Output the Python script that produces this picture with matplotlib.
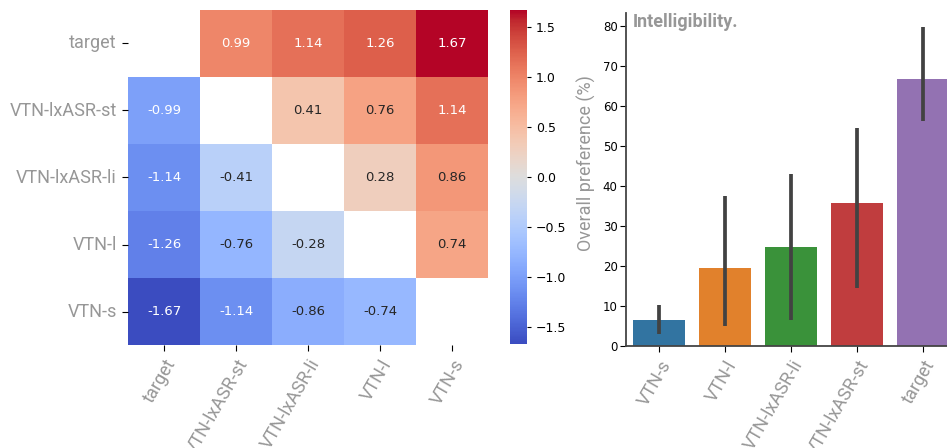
import numpy as np
import matplotlib
matplotlib.use("Agg")
import matplotlib.pyplot as plt
import seaborn as sns

# ---- data ----
heat_labels = ["target", "VTN-lxASR-st", "VTN-lxASR-li", "VTN-l", "VTN-s"]
row_target = [np.nan, 0.99, 1.14, 1.26, 1.67]
row_st = [-0.99, np.nan, 0.41, 0.76, 1.14]
row_li = [-1.14, -0.41, np.nan, 0.28, 0.86]
row_l = [-1.26, -0.76, -0.28, np.nan, 0.74]
row_s = [-1.67, -1.14, -0.86, -0.74, np.nan]

bar_labels = ["VTN-s", "VTN-l", "VTN-lxASR-li", "VTN-lxASR-st", "target"]
bar_values = [6.5, 19.4, 24.8, 35.7, 66.8]
err_low = [3.0, 4.9, 6.6, 14.5, 56.3]
err_high = [10.3, 37.5, 43.0, 54.5, 79.7]
bar_colors = ["#3274a1", "#e1812c", "#3a923a", "#c03d3e", "#9372b2"]

GRAY = "#979797"
LABEL_FONT = "Roboto"
LFS = 13

mat = np.array([row_target, row_st, row_li, row_l, row_s])

fig = plt.figure(figsize=(9.47, 4.48), dpi=100)
W, H = 947.0, 448.0

def ax_at(x0, y0, x1, y1):
    return fig.add_axes([x0 / W, 1 - y1 / H, (x1 - x0) / W, (y1 - y0) / H])

ax_h = ax_at(128, 10, 488, 345)
cax = ax_at(510, 10, 527, 344)

sns.heatmap(mat, ax=ax_h, cbar_ax=cax, cmap="coolwarm", annot=True, fmt=".2f",
            vmin=-1.67, vmax=1.67, annot_kws={"fontsize": 9.5},
            xticklabels=heat_labels, yticklabels=heat_labels)
ax_h.set_xticklabels(heat_labels, rotation=60, ha="right", rotation_mode="anchor",
                     family=LABEL_FONT, fontsize=LFS, color=GRAY)
ax_h.set_yticklabels(heat_labels, rotation=0, family=LABEL_FONT, fontsize=LFS, color=GRAY)
ax_h.tick_params(axis="both", length=4, pad=4)
cax.tick_params(labelsize=9, length=3)
cax.set_yticks([-1.5, -1.0, -0.5, 0.0, 0.5, 1.0, 1.5])

# ---- bar chart ----
ax_b = ax_at(626, 13, 956, 346)
x = np.arange(len(bar_labels))
ax_b.bar(x, bar_values, width=0.8, color=bar_colors)
for xi, lo, hi in zip(x, err_low, err_high):
    ax_b.plot([xi, xi], [lo, hi], color="#424242", lw=2.7, solid_capstyle="butt")
ax_b.set_xlim(-0.5, 4.5)
ax_b.set_ylim(0, 83.3)
ax_b.set_yticks(range(0, 81, 10))
ax_b.set_xticks(x)
ax_b.set_xticklabels(bar_labels, rotation=60, ha="right", rotation_mode="anchor",
                     family=LABEL_FONT, fontsize=LFS, color=GRAY)
ax_b.tick_params(axis="y", labelsize=8.5, length=4, pad=2)
ax_b.tick_params(axis="x", length=4, pad=4)
ax_b.set_ylabel("Overall preference (%)", family=LABEL_FONT, fontsize=LFS, color=GRAY)
ax_b.yaxis.set_label_coords(-0.092, 0.55)
for s in ["top", "right"]:
    ax_b.spines[s].set_visible(False)
for s in ["left", "bottom"]:
    ax_b.spines[s].set_color("#444444")
    ax_b.spines[s].set_linewidth(1.3)
ax_b.text(0.02, 1.0, "Intelligibility.", transform=ax_b.transAxes, ha="left", va="top",
          family=LABEL_FONT, fontweight="bold", fontsize=LFS, color=GRAY)

fig.savefig("out.png", dpi=100)
